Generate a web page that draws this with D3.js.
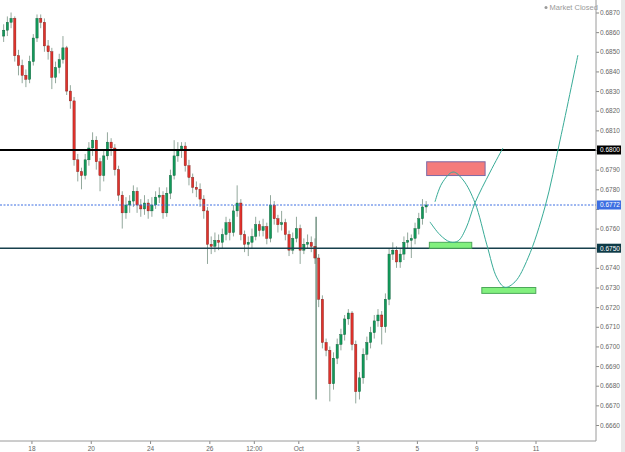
<!DOCTYPE html>
<html>
<head>
<meta charset="utf-8">
<script src="https://cdn.jsdelivr.net/npm/d3@7"></script>
<style>
  html, body { margin: 0; padding: 0; background: #fff; }
  svg { display: block; font-family: "Liberation Sans", Arial, sans-serif; }
</style>
</head>
<body>
<svg id="chart"></svg>
<script>
'use strict';

// 3h candles, 8 per trading day, first one opens Mon 17 Sep 00:00
var candlesPerDay = 8;
var firstOpen = 0.6858;
var closes = [
  0.6861, 0.6865, 0.6867, 0.6848, 0.6843, 0.6838, 0.6836, 0.6845, 0.6857, 0.6867,
  0.6865, 0.6853, 0.6850, 0.6837, 0.6842, 0.6846, 0.6852, 0.6830, 0.6825, 0.6795,
  0.6789, 0.6787, 0.6795, 0.6801, 0.6805, 0.6794, 0.6787, 0.6797, 0.6804, 0.6801,
  0.6790, 0.6777, 0.6768, 0.6772, 0.6774, 0.6779, 0.6772, 0.6770, 0.6773, 0.6769,
  0.6772, 0.6776, 0.6777, 0.6768, 0.6778, 0.6787, 0.6797, 0.6800, 0.6802, 0.6792,
  0.6786, 0.6781, 0.6780, 0.6775, 0.6769, 0.6752, 0.6751, 0.6754, 0.6753, 0.6757,
  0.6763, 0.6758, 0.6769, 0.6773, 0.6757, 0.6752, 0.6753, 0.6756, 0.6762, 0.6759,
  0.6761, 0.6755, 0.6772, 0.6765, 0.6762, 0.6763, 0.6757, 0.6749, 0.6755, 0.6760,
  0.6749, 0.6752, 0.6753, 0.6751, 0.6745, 0.6724, 0.6702, 0.6698, 0.6681, 0.6694,
  0.6701, 0.6706, 0.6714, 0.6717, 0.6701, 0.6677, 0.6684, 0.6696, 0.6702, 0.6707,
  0.6713, 0.6716, 0.6710, 0.6724, 0.6747, 0.6749, 0.6743, 0.6747, 0.6753, 0.6754,
  0.6755, 0.6760, 0.6765, 0.6771, 0.6772
];
var highs = [
  0.6864, 0.6868, 0.6870, 0.6868, 0.6851, 0.6846, 0.6841, 0.6848, 0.6859, 0.6869,
  0.6869, 0.6867, 0.6856, 0.6852, 0.6845, 0.6849, 0.6858, 0.6853, 0.6833, 0.6827,
  0.6798, 0.6791, 0.6798, 0.6804, 0.6809, 0.6807, 0.6796, 0.6800, 0.6809, 0.6806,
  0.6803, 0.6792, 0.6779, 0.6776, 0.6777, 0.6782, 0.6781, 0.6775, 0.6777, 0.6775,
  0.6776, 0.6779, 0.6781, 0.6779, 0.6781, 0.6790, 0.6805, 0.6804, 0.6804, 0.6804,
  0.6795, 0.6788, 0.6784, 0.6783, 0.6777, 0.6771, 0.6756, 0.6758, 0.6757, 0.6760,
  0.6766, 0.6765, 0.6772, 0.6782, 0.6775, 0.6759, 0.6756, 0.6760, 0.6766, 0.6764,
  0.6765, 0.6763, 0.6777, 0.6774, 0.6767, 0.6769, 0.6765, 0.6759, 0.6758, 0.6766,
  0.6762, 0.6755, 0.6757, 0.6756, 0.6755, 0.6747, 0.6726, 0.6704, 0.6700, 0.6697,
  0.6704, 0.6709, 0.6716, 0.6719, 0.6718, 0.6703, 0.6687, 0.6699, 0.6705, 0.6710,
  0.6716, 0.6719, 0.6718, 0.6727, 0.6750, 0.6753, 0.6751, 0.6750, 0.6756, 0.6758,
  0.6757, 0.6763, 0.6768, 0.6775, 0.6774
];
var lows = [
  0.6855, 0.6858, 0.6862, 0.6845, 0.6838, 0.6834, 0.6832, 0.6834, 0.6843, 0.6855,
  0.6862, 0.6850, 0.6846, 0.6831, 0.6834, 0.6839, 0.6844, 0.6828, 0.6821, 0.6792,
  0.6784, 0.6780, 0.6785, 0.6792, 0.6797, 0.6790, 0.6779, 0.6784, 0.6795, 0.6797,
  0.6787, 0.6774, 0.6760, 0.6765, 0.6768, 0.6771, 0.6768, 0.6766, 0.6767, 0.6765,
  0.6766, 0.6770, 0.6773, 0.6765, 0.6766, 0.6775, 0.6785, 0.6794, 0.6796, 0.6789,
  0.6782, 0.6778, 0.6776, 0.6771, 0.6765, 0.6742, 0.6747, 0.6748, 0.6749, 0.6750,
  0.6754, 0.6754, 0.6756, 0.6766, 0.6754, 0.6748, 0.6746, 0.6750, 0.6754, 0.6756,
  0.6756, 0.6752, 0.6753, 0.6762, 0.6758, 0.6759, 0.6754, 0.6746, 0.6747, 0.6753,
  0.6742, 0.6747, 0.6750, 0.6748, 0.6742, 0.6720, 0.6699, 0.6695, 0.6672, 0.6678,
  0.6691, 0.6698, 0.6703, 0.6711, 0.6698, 0.6671, 0.6673, 0.6681, 0.6693, 0.6699,
  0.6704, 0.6710, 0.6701, 0.6707, 0.6721, 0.6744, 0.6740, 0.6740, 0.6744, 0.6750,
  0.6745, 0.6752, 0.6757, 0.6762, 0.6768
];

// x positions are in trading days from Mon 17 Sep
var dayTicks = [1, 3, 5, 7, 8.5, 10, 12, 14, 16, 18];
var dayLabels = ['18', '20', '24', '26', '12:00', 'Oct', '3', '5', '9', '11'];
var priceTicks = [
  0.6660, 0.6670, 0.6680, 0.6690, 0.6700, 0.6710, 0.6720, 0.6730, 0.6740, 0.6750, 0.6760,
  0.6770, 0.6780, 0.6790, 0.6800, 0.6810, 0.6820, 0.6830, 0.6840, 0.6850, 0.6860, 0.6870
];

var levelPrices = [0.6800, 0.6750, 0.6772];

// drawn boxes: sell zone then two buy zones
var zoneStart = [14.33, 14.42, 16.19];
var zoneEnd = [16.30, 15.85, 18.01];
var zoneLow = [0.6787, 0.6750, 0.6727];
var zoneHigh = [0.6794, 0.6753, 0.6730];

// projected paths
var pathADays = [14.61, 14.85, 15.22, 15.56, 15.96, 16.36, 16.70, 16.97, 17.31, 17.75, 18.32, 18.83, 19.43];
var pathAPrices = [0.67736, 0.67832, 0.67888, 0.67847, 0.67731, 0.67517, 0.67349, 0.67301, 0.67329, 0.67451, 0.67710, 0.68051, 0.68483];
var pathBDays = [14.44, 14.78, 15.12, 15.39, 15.66, 15.96, 16.47, 16.90];
var pathBPrices = [0.67634, 0.67568, 0.67532, 0.67537, 0.67603, 0.67731, 0.67888, 0.68010];

// thin vertical marker near 2 Oct
var spikeDay = 10.6;
var spikePrices = [0.6766, 0.6673];

var width = 625,
  height = 452,
  plotRight = 596,
  plotBottom = 441;

var svg = d3.select('#chart').attr('width', width).attr('height', height);

var x = d3.scaleLinear().domain([0, 20]).range([1.8, 594.8]);
var y = d3.scaleLinear().domain([0.6660, 0.6870]).range([425, 12.5]);

var candleStep = x(1 / candlesPerDay) - x(0);
var bodyWidth = candleStep * 0.62;

var candles = closes.map(function(c, i) {
  return {
    t: (i + 0.5) / candlesPerDay,
    o: i ? closes[i - 1] : firstOpen,
    c: c,
    h: highs[i],
    l: lows[i]
  };
});

svg.append('defs').append('clipPath').attr('id', 'plot')
  .append('rect').attr('x', 0).attr('y', 0).attr('width', plotRight).attr('height', plotBottom);

var plot = svg.append('g').attr('clip-path', 'url(#plot)');

// wicks
plot.append('g').selectAll('line').data(candles).enter().append('line')
  .attr('x1', function(d) { return x(d.t); })
  .attr('x2', function(d) { return x(d.t); })
  .attr('y1', function(d) { return y(d.h); })
  .attr('y2', function(d) { return y(d.l); })
  .attr('stroke', '#93a89c')
  .attr('stroke-width', 1);

// bodies
plot.append('g').selectAll('rect').data(candles).enter().append('rect')
  .attr('x', function(d) { return x(d.t) - bodyWidth / 2; })
  .attr('width', bodyWidth)
  .attr('y', function(d) { return y(Math.max(d.o, d.c)); })
  .attr('height', function(d) { return Math.max(1, Math.abs(y(d.o) - y(d.c))); })
  .attr('fill', function(d) { return d.c >= d.o ? '#12995a' : '#e0322c'; })
  .attr('stroke', function(d) { return d.c >= d.o ? '#0d5a36' : '#7a1a16'; })
  .attr('stroke-width', 0.4);

plot.append('line')
  .attr('x1', x(spikeDay)).attr('x2', x(spikeDay))
  .attr('y1', y(spikePrices[0])).attr('y2', y(spikePrices[1]))
  .attr('stroke', '#2f5e47').attr('stroke-width', 1);

// horizontal levels
var levelColors = ['#000', '#17404c', '#3d6fe2'];
var levelWidths = [2, 1.5, 1];
levelPrices.forEach(function(p, i) {
  plot.append('line')
    .attr('x1', 0).attr('x2', plotRight)
    .attr('y1', y(p)).attr('y2', y(p))
    .attr('stroke', levelColors[i])
    .attr('stroke-width', levelWidths[i])
    .attr('stroke-dasharray', i === 2 ? '2,1.5' : null);
});

// zones
zoneStart.forEach(function(s, i) {
  var sell = i === 0;
  plot.append('rect')
    .attr('x', x(s))
    .attr('width', x(zoneEnd[i]) - x(s))
    .attr('y', y(zoneHigh[i]))
    .attr('height', y(zoneLow[i]) - y(zoneHigh[i]))
    .attr('fill', sell ? '#f47b7b' : '#82f07e')
    .attr('stroke', sell ? '#7c69a6' : '#4da85a')
    .attr('stroke-width', 1);
});

// projected paths
var line = d3.line()
  .x(function(d) { return x(d[0]); })
  .y(function(d) { return y(d[1]); })
  .curve(d3.curveCatmullRom.alpha(0.5));

[[pathADays, pathAPrices], [pathBDays, pathBPrices]].forEach(function(p) {
  plot.append('path')
    .datum(d3.zip(p[0], p[1]))
    .attr('d', line)
    .attr('fill', 'none')
    .attr('stroke', '#38ab97')
    .attr('stroke-width', 1);
});

// axes
var yAxis = d3.axisRight(y)
  .tickValues(priceTicks)
  .tickSize(3)
  .tickFormat(d3.format('.4f'));

var xAxis = d3.axisBottom(x)
  .tickValues(dayTicks)
  .tickSize(3)
  .tickFormat(function(d, i) { return dayLabels[i]; });

function styleAxis(g) {
  g.select('.domain').remove();
  g.selectAll('.tick line').attr('stroke', '#888');
  g.selectAll('.tick text')
    .attr('fill', '#666')
    .style('font-size', '6.5px')
    .style('font-family', '"Liberation Sans", Arial, sans-serif');
}

var yAxisG = svg.append('g').attr('transform', 'translate(' + plotRight + ',0)').call(yAxis).call(styleAxis);
yAxisG.selectAll('.tick text').attr('x', 4);
// the price flags cover the tick labels next to them
yAxisG.selectAll('.tick').filter(function(d) {
  return levelPrices.some(function(p) { return Math.abs(y(p) - y(d)) < 8; });
}).select('text').remove();

svg.append('g').attr('transform', 'translate(0,' + plotBottom + ')').call(xAxis).call(styleAxis)
  .selectAll('.tick text').attr('y', 5);

svg.append('line')
  .attr('x1', plotRight).attr('x2', plotRight).attr('y1', 0).attr('y2', plotBottom)
  .attr('stroke', '#9a9a9a').attr('stroke-width', 1);
svg.append('line')
  .attr('x1', 0).attr('x2', plotRight).attr('y1', plotBottom).attr('y2', plotBottom)
  .attr('stroke', '#9a9a9a').attr('stroke-width', 1);

// scroll strip on the right edge
svg.append('rect').attr('x', 621).attr('y', 0).attr('width', 4).attr('height', height).attr('fill', '#e9e9e9');

// price flags on the axis
var flagColors = ['#000', '#0e3b47', '#3d6fe2'];
levelPrices.forEach(function(p, i) {
  var g = svg.append('g').attr('transform', 'translate(' + (plotRight + 1) + ',' + y(p) + ')');
  g.append('rect').attr('x', 0).attr('y', -4.5).attr('width', 24).attr('height', 9).attr('fill', flagColors[i]);
  g.append('text').attr('x', 3).attr('y', 2.3)
    .attr('fill', '#fff')
    .style('font-size', '6.5px')
    .text(d3.format('.4f')(p));
});

// status
svg.append('circle').attr('cx', 546).attr('cy', 7.5).attr('r', 1.5).attr('fill', '#9a9a9a');
svg.append('text').attr('x', 549.5).attr('y', 10).attr('fill', '#9a9a9a')
  .style('font-size', '7.5px').text('Market Closed');
</script>
</body>
</html>
